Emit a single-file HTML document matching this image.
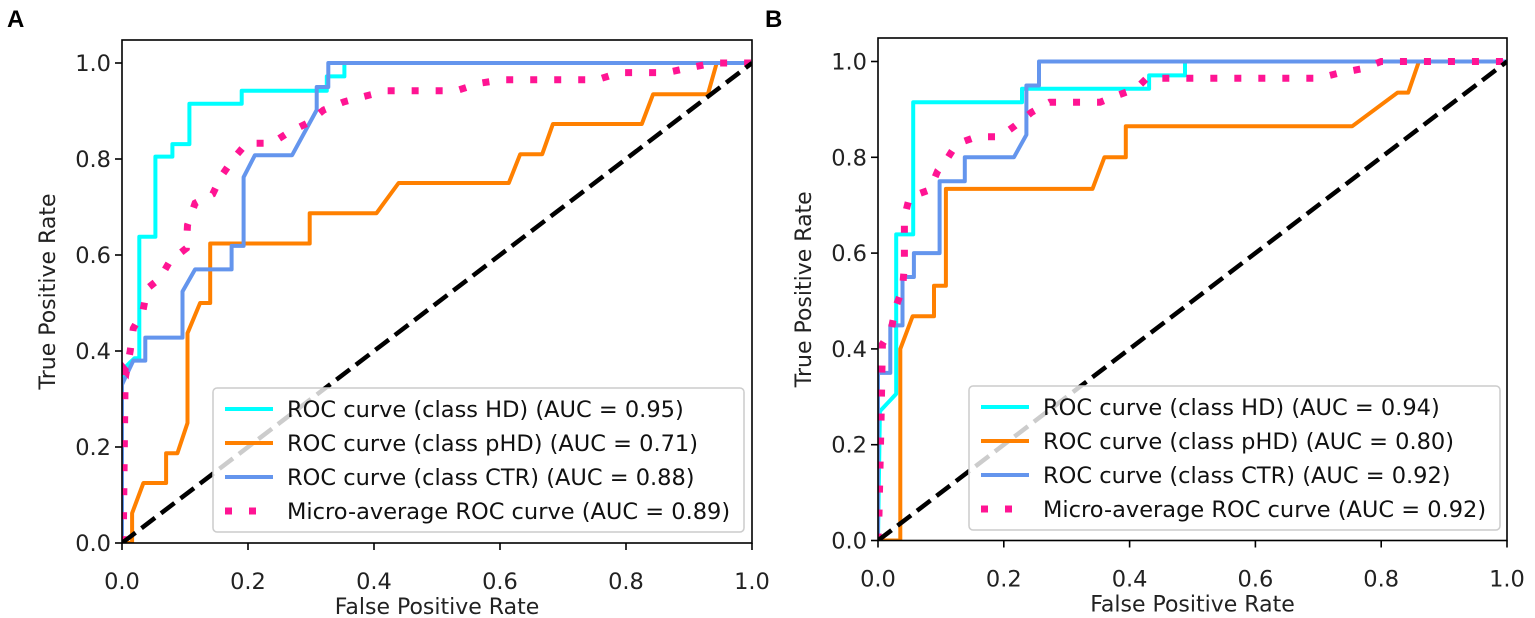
<!DOCTYPE html>
<html><head><meta charset="utf-8"><style>
html,body{margin:0;padding:0;background:#fff;}
svg{display:block;font-family:"DejaVu Sans","Liberation Sans",sans-serif;}
</style></head><body>
<svg id="chart" width="1535" height="618" viewBox="0 0 1535 618"></svg>
<script>
// ---- Data ----
const tickVals = [0.0, 0.2, 0.4, 0.6, 0.8, 1.0];
const tickLabels = ["0.0", "0.2", "0.4", "0.6", "0.8", "1.0"];
const panelLetters = ["A", "B"];
const legendLabelsA = ["ROC curve (class HD) (AUC = 0.95)", "ROC curve (class pHD) (AUC = 0.71)", "ROC curve (class CTR) (AUC = 0.88)", "Micro-average ROC curve (AUC = 0.89)"];
const legendLabelsB = ["ROC curve (class HD) (AUC = 0.94)", "ROC curve (class pHD) (AUC = 0.80)", "ROC curve (class CTR) (AUC = 0.92)", "Micro-average ROC curve (AUC = 0.92)"];

// Panel A
const aHD_x = [0,0,0.02,0.0275,0.0275,0.053,0.053,0.08,0.08,0.107,0.107,0.19,0.19,0.325,0.325,0.353,0.353,1];
const aHD_y = [0,0.36,0.385,0.385,0.638,0.638,0.805,0.805,0.831,0.831,0.915,0.915,0.942,0.942,0.972,0.972,1,1];
const aPHD_x = [0,0.016,0.016,0.034,0.07,0.07,0.088,0.104,0.104,0.124,0.14,0.14,0.298,0.298,0.404,0.439,0.614,0.632,0.667,0.684,0.825,0.843,0.93,0.944,1];
const aPHD_y = [0,0,0.062,0.125,0.125,0.187,0.187,0.25,0.437,0.5,0.5,0.624,0.624,0.687,0.687,0.75,0.75,0.81,0.81,0.873,0.873,0.935,0.935,1,1];
const aCTR_x = [0,0,0.018,0.037,0.037,0.096,0.096,0.116,0.174,0.174,0.193,0.193,0.211,0.27,0.309,0.309,0.3275,0.3275,1];
const aCTR_y = [0,0.33,0.38,0.38,0.428,0.428,0.524,0.57,0.57,0.619,0.619,0.762,0.808,0.808,0.902,0.95,0.95,1,1];
const aMIC_x = [0,0.002,0.005,0.007,0.013,0.018,0.033,0.04,0.06,0.076,0.102,0.104,0.116,0.144,0.158,0.177,0.198,0.238,0.264,0.293,0.32,0.352,0.383,0.42,0.53,0.568,0.603,0.754,0.79,0.865,0.9,0.94,1];
const aMIC_y = [0,0.01,0.36,0.357,0.4,0.447,0.482,0.53,0.551,0.587,0.614,0.662,0.708,0.727,0.765,0.801,0.833,0.833,0.855,0.874,0.902,0.919,0.93,0.942,0.942,0.958,0.965,0.965,0.98,0.98,0.99,1,1];

// Panel B
const bHD_x = [0,0.003,0.029,0.029,0.056,0.056,0.229,0.229,0.431,0.431,0.488,0.488,1];
const bHD_y = [0,0.27,0.306,0.639,0.639,0.915,0.915,0.943,0.943,0.971,0.971,1,1];
const bPHD_x = [0,0.0355,0.0355,0.055,0.089,0.089,0.108,0.108,0.341,0.36,0.394,0.394,0.754,0.826,0.843,0.86,1];
const bPHD_y = [0,0,0.40,0.468,0.468,0.532,0.532,0.734,0.734,0.80,0.80,0.865,0.865,0.935,0.935,1,1];
const bCTR_x = [0,0,0.0196,0.0196,0.039,0.039,0.057,0.057,0.098,0.098,0.138,0.138,0.216,0.236,0.236,0.256,0.256,1];
const bCTR_y = [0,0.35,0.35,0.449,0.449,0.55,0.55,0.6,0.6,0.75,0.75,0.80,0.80,0.847,0.95,0.95,1,1];
const bMIC_x = [0,0.0016,0.005,0.007,0.021,0.028,0.039,0.042,0.042,0.05,0.082,0.095,0.11,0.125,0.157,0.194,0.218,0.244,0.273,0.353,0.38,0.41,0.427,0.70,0.73,0.77,0.80,1];
const bMIC_y = [0,0.056,0.257,0.41,0.44,0.487,0.525,0.574,0.675,0.717,0.732,0.772,0.797,0.828,0.843,0.843,0.866,0.894,0.915,0.915,0.929,0.943,0.965,0.965,0.975,0.985,1,1];

const NS = "http://www.w3.org/2000/svg";
const svg = document.getElementById('chart');
function el(tag, attrs, parent) {
  const e = document.createElementNS(NS, tag);
  for (const k in attrs) e.setAttribute(k, attrs[k]);
  (parent || svg).appendChild(e);
  return e;
}

function drawPanel(cfg) {
  const g = el('g', {});
  
  
  const sx = v => cfg.x0 + v * (cfg.x1 - cfg.x0);
  const sy = v => cfg.y0 - v * (cfg.y0 - cfg.y1);

  const letter = el('text', {x: cfg.letterX, y: 27, 'font-size': 24, 'font-weight': 'bold', 'font-family': '"Liberation Sans",sans-serif'}, g);
  letter.textContent = cfg.letter;
  
  

  const clipId = 'clip' + cfg.letter;
  const cp = el('clipPath', {id: clipId}, g);
  el('rect', {x: cfg.x0, y: cfg.top, width: cfg.x1 - cfg.x0, height: cfg.y0 - cfg.top}, cp);

  const plot = el('g', {'clip-path': 'url(#' + clipId + ')'}, g);
  
  

  const series = [
    {name: 'hd-curve', xs: cfg.hdx, ys: cfg.hdy, color: '#00ffff', w: 4},
    {name: 'phd-curve', xs: cfg.phdx, ys: cfg.phdy, color: '#ff8000', w: 4},
    {name: 'ctr-curve', xs: cfg.ctrx, ys: cfg.ctry, color: '#6495ed', w: 4},
    {name: 'micro-average-curve', xs: cfg.micx, ys: cfg.micy, color: '#ff1493', w: 7, dash: '7 17'}
  ];
  series.forEach(s => {
    const d = s.xs.map((x, i) => (i ? 'L' : 'M') + sx(x).toFixed(1) + ',' + sy(s.ys[i]).toFixed(1)).join(' ');
    const p = el('path', {d: d, fill: 'none', stroke: s.color, 'stroke-width': s.w, 'stroke-linejoin': 'round'}, plot);
    if (s.dash) { p.setAttribute('stroke-dasharray', s.dash); p.setAttribute('stroke-linejoin', 'miter'); }
    
    
  });
  const diag = el('line', {x1: sx(0), y1: sy(0), x2: sx(1), y2: sy(1), stroke: '#000', 'stroke-width': 4.5, 'stroke-dasharray': '17 7.5'}, plot);
  
  

  const fr = el('rect', {x: cfg.x0, y: cfg.top, width: cfg.x1 - cfg.x0, height: cfg.y0 - cfg.top, fill: 'none', stroke: '#000', 'stroke-width': 1.6}, g);
  
  

  tickVals.forEach((v, i) => {
    const X = sx(v);
    el('line', {x1: X, y1: cfg.y0, x2: X, y2: cfg.y0 + 7, stroke: '#000', 'stroke-width': 1.6}, g);
    const t = el('text', {x: X, y: cfg.y0 + 46, 'font-size': 22.5, 'text-anchor': 'middle', fill: '#222'}, g);
    t.textContent = tickLabels[i];
    
    
    const Y = sy(v);
    el('line', {x1: cfg.x0, y1: Y, x2: cfg.x0 - 7, y2: Y, stroke: '#000', 'stroke-width': 1.6}, g);
    const ty = el('text', {x: cfg.x0 - 11, y: Y + 8, 'font-size': 22.5, 'text-anchor': 'end', fill: '#222'}, g);
    ty.textContent = tickLabels[i];
    
    
  });

  const xt = el('text', {x: (cfg.x0 + cfg.x1) / 2, y: cfg.y0 + 71, 'font-size': 22, 'text-anchor': 'middle', fill: '#222'}, g);
  xt.textContent = 'False Positive Rate';
  
  
  const yc = (cfg.top + cfg.y0) / 2;
  const tx0 = cfg.x0 - 67;
  const yt = el('text', {x: tx0, y: yc, 'font-size': 22, 'text-anchor': 'middle', fill: '#222', transform: 'rotate(-90 ' + tx0 + ' ' + yc + ')'}, g);
  yt.textContent = 'True Positive Rate';
  
  

  const lg = el('g', {}, g);
  
  
  el('rect', {x: cfg.lx, y: cfg.ly, width: cfg.lw, height: 144, rx: 4, fill: '#fff', 'fill-opacity': 0.8, stroke: '#ccc', 'stroke-width': 1.5}, lg);
  cfg.labels.forEach((lab, i) => {
    const yy = cfg.ly + 21 + i * 34;
    const s = series[i];
    const ln = el('line', {x1: cfg.lx + 12, y1: yy, x2: cfg.lx + 60, y2: yy, stroke: s.color, 'stroke-width': s.w}, lg);
    if (s.dash) ln.setAttribute('stroke-dasharray', '7 17');
    
    
    const tx = el('text', {x: cfg.lx + 74, y: yy + 8, 'font-size': 22.5, fill: '#111'}, lg);
    tx.textContent = lab;
    
    
  });
}

drawPanel({letter: panelLetters[0], letterX: 7, x0: 122, x1: 752, y0: 543, y1: 63, top: 40,
  hdx: aHD_x, hdy: aHD_y, phdx: aPHD_x, phdy: aPHD_y, ctrx: aCTR_x, ctry: aCTR_y, micx: aMIC_x, micy: aMIC_y,
  labels: legendLabelsA, lx: 213, ly: 388, lw: 531});
drawPanel({letter: panelLetters[1], letterX: 765, x0: 878, x1: 1507, y0: 540.5, y1: 61.5, top: 38,
  hdx: bHD_x, hdy: bHD_y, phdx: bPHD_x, phdy: bPHD_y, ctrx: bCTR_x, ctry: bCTR_y, micx: bMIC_x, micy: bMIC_y,
  labels: legendLabelsB, lx: 969, ly: 386, lw: 531});
</script>
</body></html>
